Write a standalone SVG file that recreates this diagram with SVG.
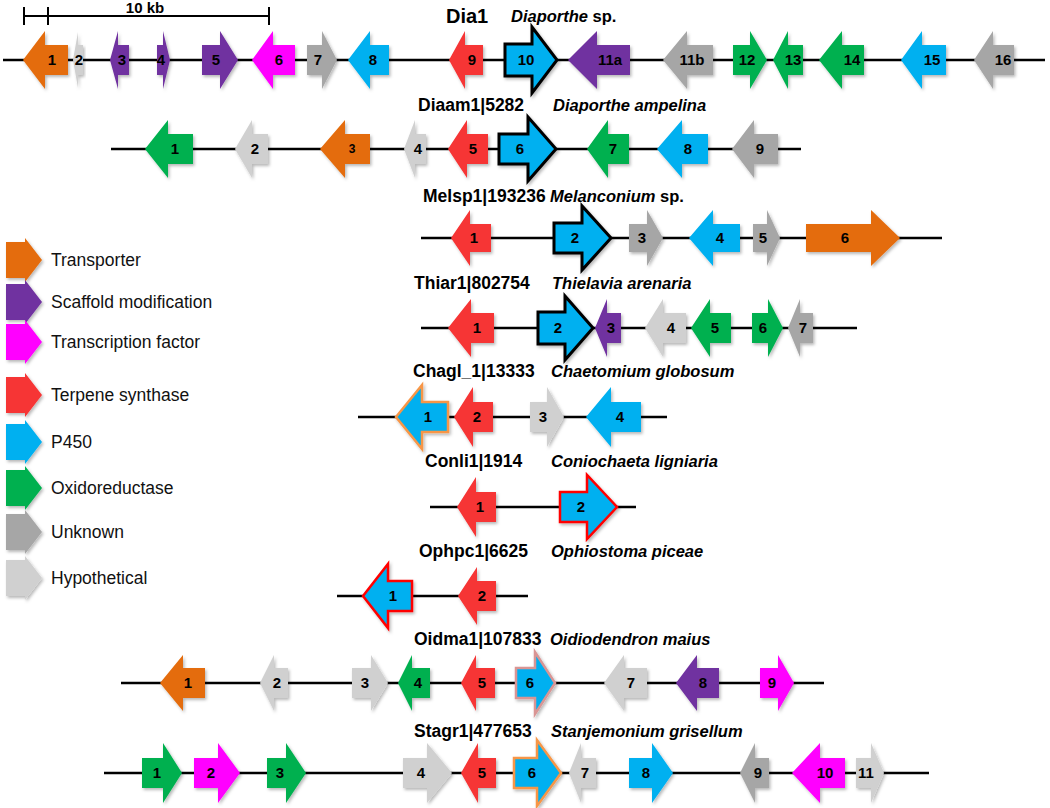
<svg xmlns="http://www.w3.org/2000/svg" width="1050" height="808" viewBox="0 0 1050 808">
<defs>
<filter id="sh" x="-20%" y="-20%" width="150%" height="150%"><feDropShadow dx="1.5" dy="2" stdDeviation="1.5" flood-color="#000" flood-opacity="0.28"/></filter>
</defs>
<style>
.ln{stroke:#000;stroke-width:2.5;fill:none}
.sb{stroke:#000;stroke-width:2;fill:none}
polygon{filter:url(#sh)}
text{font-family:"Liberation Sans",Arial,sans-serif;fill:#000}
.n{font-size:15px;font-weight:bold;text-anchor:middle}
.id{font-size:17.5px;font-weight:bold}
.sp{font-size:16.5px;font-weight:bold;font-style:italic}
.lt{font-size:17.5px;fill:#111}
.or{fill:#E46C0A}.pu{fill:#7030A0}.mg{fill:#FF00FF}.rd{fill:#F63434}.bl{fill:#00B0F0}.gn{fill:#00B050}.gy{fill:#A6A6A6}.lg{fill:#D0D0D0}
.bk{stroke:#000;stroke-width:3;stroke-linejoin:miter}
.ob{stroke:#F79646;stroke-width:2.5}
.rb{stroke:#FF0000;stroke-width:2.5}
.pb{stroke:#D99594;stroke-width:2.5}
</style>
<rect width="1050" height="808" fill="#fff"/>

<g id="scalebar">
<path class="sb" d="M24,16H269M24,7V25M48,7V25M269,7V25"/>
<text x="145" y="13" text-anchor="middle" style="font-size:15px;font-weight:bold">10 kb</text>
</g>

<g id="connectors">
<line class="ln" x1="3" y1="60" x2="1045" y2="60"/>
<line class="ln" x1="111" y1="149" x2="801" y2="149"/>
<line class="ln" x1="421" y1="238" x2="942" y2="238"/>
<line class="ln" x1="421" y1="328" x2="857" y2="328"/>
<line class="ln" x1="358" y1="417" x2="667" y2="417"/>
<line class="ln" x1="430" y1="507" x2="636" y2="507"/>
<line class="ln" x1="337" y1="596" x2="528" y2="596"/>
<line class="ln" x1="121" y1="683" x2="824" y2="683"/>
<line class="ln" x1="104" y1="773" x2="929" y2="773"/>
</g>

<g id="labels">
<text class="id" x="446" y="23" style="font-size:20px">Dia1</text>
<text class="sp" x="511" y="22">Diaporthe<tspan font-style="normal"> sp.</tspan></text>
<text class="id" x="418" y="111">Diaam1|5282</text>
<text class="sp" x="553" y="111">Diaporthe ampelina</text>
<text class="id" x="423" y="202">Melsp1|193236</text>
<text class="sp" x="550" y="202">Melanconium<tspan font-style="normal"> sp.</tspan></text>
<text class="id" x="414" y="289">Thiar1|802754</text>
<text class="sp" x="552" y="289">Thielavia arenaria</text>
<text class="id" x="413" y="377">Chagl_1|13333</text>
<text class="sp" x="551" y="377">Chaetomium globosum</text>
<text class="id" x="425" y="467">Conli1|1914</text>
<text class="sp" x="551" y="467">Coniochaeta ligniaria</text>
<text class="id" x="419" y="557">Ophpc1|6625</text>
<text class="sp" x="551" y="557">Ophiostoma piceae</text>
<text class="id" x="414" y="645">Oidma1|107833</text>
<text class="sp" x="550" y="645">Oidiodendron maius</text>
<text class="id" x="414" y="737">Stagr1|477653</text>
<text class="sp" x="551" y="737">Stanjemonium grisellum</text>
</g>

<g id="legend">
<g id="leg-transporter"><polygon class="or" points="6,242 25,242 25,238 42,260 25,282 25,278 6,278"/><text class="lt" x="51" y="266">Transporter</text></g>
<g id="leg-scaffold"><polygon class="pu" points="6,284 25,284 25,280 42,302 25,324 25,320 6,320"/><text class="lt" x="51" y="308">Scaffold modification</text></g>
<g id="leg-tf"><polygon class="mg" points="6,324 25,324 25,320 42,342 25,364 25,360 6,360"/><text class="lt" x="51" y="348">Transcription factor</text></g>
<g id="leg-terpene"><polygon class="rd" points="6,377 25,377 25,373 42,395 25,417 25,413 6,413"/><text class="lt" x="51" y="401">Terpene synthase</text></g>
<g id="leg-p450"><polygon class="bl" points="6,424 25,424 25,420 42,442 25,464 25,460 6,460"/><text class="lt" x="51" y="448">P450</text></g>
<g id="leg-oxido"><polygon class="gn" points="6,470 25,470 25,466 42,488 25,510 25,506 6,506"/><text class="lt" x="51" y="494">Oxidoreductase</text></g>
<g id="leg-unknown"><polygon class="gy" points="6,514 25,514 25,510 42,532 25,554 25,550 6,550"/><text class="lt" x="51" y="538">Unknown</text></g>
<g id="leg-hypo"><polygon class="lg" points="6,560 25,560 25,556 42,578 25,600 25,596 6,596"/><text class="lt" x="51" y="584">Hypothetical</text></g>
</g>

<g id="dia1">
<g id="dia1-1"><polygon class="or" points="23,60 45,31 45,45 68,45 68,75 45,75 45,89"/><text class="n" x="52" y="65">1</text></g>
<g id="dia1-2"><polygon class="lg" points="73,60 78,32 78,45 83,45 83,75 78,75 78,88"/><text class="n" x="79" y="65">2</text></g>
<g id="dia1-3"><polygon class="pu" points="110,60 118,31 118,45 129,45 129,75 118,75 118,89"/><text class="n" x="122" y="65">3</text></g>
<g id="dia1-4"><polygon class="pu" points="157,45 163,45 163,31 170,60 163,89 163,75 157,75"/><text class="n" x="161" y="65">4</text></g>
<g id="dia1-5"><polygon class="pu" points="202,45 220,45 220,31 238,60 220,89 220,75 202,75"/><text class="n" x="216" y="65">5</text></g>
<g id="dia1-6"><polygon class="mg" points="252,60 273,31 273,45 295,45 295,75 273,75 273,89"/><text class="n" x="279" y="65">6</text></g>
<g id="dia1-7"><polygon class="gy" points="307,45 322,45 322,31 337,60 322,89 322,75 307,75"/><text class="n" x="318" y="65">7</text></g>
<g id="dia1-8"><polygon class="bl" points="348,60 370,31 370,45 389,45 389,75 370,75 370,89"/><text class="n" x="373" y="65">8</text></g>
<g id="dia1-9"><polygon class="rd" points="449,60 465,31 465,45 483,45 483,75 465,75 465,89"/><text class="n" x="472" y="65">9</text></g>
<g id="dia1-10"><polygon class="bl bk" points="505,44 532,44 532,27 557,60 532,93 532,76 505,76"/><text class="n" x="526" y="65">10</text></g>
<g id="dia1-11a"><polygon class="pu" points="568,60 597,31 597,45 630,45 630,75 597,75 597,89"/><text class="n" x="610" y="65">11a</text></g>
<g id="dia1-11b"><polygon class="gy" points="663,60 687,31 687,45 713,45 713,75 687,75 687,89"/><text class="n" x="692" y="65">11b</text></g>
<g id="dia1-12"><polygon class="gn" points="733,45 750,45 750,31 767,60 750,89 750,75 733,75"/><text class="n" x="747" y="65">12</text></g>
<g id="dia1-13"><polygon class="gn" points="773,60 788,31 788,45 803,45 803,75 788,75 788,89"/><text class="n" x="793" y="65">13</text></g>
<g id="dia1-14"><polygon class="gn" points="819,60 842,31 842,45 864,45 864,75 842,75 842,89"/><text class="n" x="852" y="65">14</text></g>
<g id="dia1-15"><polygon class="bl" points="901,60 922,31 922,45 946,45 946,75 922,75 922,89"/><text class="n" x="932" y="65">15</text></g>
<g id="dia1-16"><polygon class="gy" points="974,60 993,31 993,45 1014,45 1014,75 993,75 993,89"/><text class="n" x="1003" y="65">16</text></g>
</g>

<g id="diaam1">
<g id="diaam1-1"><polygon class="gn" points="145,149 168,120 168,134 193,134 193,164 168,164 168,178"/><text class="n" x="175" y="154">1</text></g>
<g id="diaam1-2"><polygon class="lg" points="235,149 252,120 252,134 268,134 268,164 252,164 252,178"/><text class="n" x="255" y="154">2</text></g>
<g id="diaam1-3"><polygon class="or" points="320,149 345,120 345,134 370,134 370,164 345,164 345,178"/><text class="n" x="352" y="153" style="font-size:12px">3</text></g>
<g id="diaam1-4"><polygon class="lg" points="404,149 415,120 415,134 426,134 426,164 415,164 415,178"/><text class="n" x="418" y="154">4</text></g>
<g id="diaam1-5"><polygon class="rd" points="448,149 467,120 467,134 488,134 488,164 467,164 467,178"/><text class="n" x="473" y="154">5</text></g>
<g id="diaam1-6"><polygon class="bl bk" points="499,134 528,134 528,117 556,149 528,181 528,164 499,164"/><text class="n" x="520" y="154">6</text></g>
<g id="diaam1-7"><polygon class="gn" points="587,149 608,120 608,134 629,134 629,164 608,164 608,178"/><text class="n" x="613" y="154">7</text></g>
<g id="diaam1-8"><polygon class="bl" points="657,149 682,120 682,134 708,134 708,164 682,164 682,178"/><text class="n" x="688" y="154">8</text></g>
<g id="diaam1-9"><polygon class="gy" points="732,149 754,120 754,134 778,134 778,164 754,164 754,178"/><text class="n" x="760" y="154">9</text></g>
</g>

<g id="melsp1">
<g id="melsp1-1"><polygon class="rd" points="451,238 470,210 470,224 491,224 491,252 470,252 470,266"/><text class="n" x="474" y="243">1</text></g>
<g id="melsp1-2"><polygon class="bl bk" points="554,223 582,223 582,206 611,238 582,270 582,253 554,253"/><text class="n" x="575" y="243">2</text></g>
<g id="melsp1-3"><polygon class="gy" points="629,224 647,224 647,210 663,238 647,266 647,252 629,252"/><text class="n" x="642" y="243">3</text></g>
<g id="melsp1-4"><polygon class="bl" points="689,238 713,210 713,224 740,224 740,252 713,252 713,266"/><text class="n" x="720" y="243">4</text></g>
<g id="melsp1-5"><polygon class="gy" points="753,224 767,224 767,210 780,238 767,266 767,252 753,252"/><text class="n" x="763" y="243">5</text></g>
<g id="melsp1-6"><polygon class="or" points="806,224 871,224 871,210 900,238 871,266 871,252 806,252"/><text class="n" x="845" y="243">6</text></g>
</g>

<g id="thiar1">
<g id="thiar1-1"><polygon class="rd" points="448,328 471,299 471,313 494,313 494,343 471,343 471,357"/><text class="n" x="477" y="333">1</text></g>
<g id="thiar1-2"><polygon class="bl bk" points="538,312 565,312 565,296 593,328 565,360 565,344 538,344"/><text class="n" x="558" y="333">2</text></g>
<g id="thiar1-3"><polygon class="pu" points="595,328 607,299 607,313 621,313 621,343 607,343 607,357"/><text class="n" x="611" y="333">3</text></g>
<g id="thiar1-4"><polygon class="lg" points="645,328 663,299 663,313 686,313 686,343 663,343 663,357"/><text class="n" x="671" y="333">4</text></g>
<g id="thiar1-5"><polygon class="gn" points="691,328 710,299 710,313 731,313 731,343 710,343 710,357"/><text class="n" x="715" y="333">5</text></g>
<g id="thiar1-6"><polygon class="gn" points="752,313 768,313 768,299 783,328 768,357 768,343 752,343"/><text class="n" x="763" y="333">6</text></g>
<g id="thiar1-7"><polygon class="gy" points="788,328 800,299 800,313 813,313 813,343 800,343 800,357"/><text class="n" x="803" y="333">7</text></g>
</g>

<g id="chagl1">
<g id="chagl1-1"><polygon class="bl ob" points="396,417 422,385 422,402 448,402 448,432 422,432 422,449"/><text class="n" x="428" y="422">1</text></g>
<g id="chagl1-2"><polygon class="rd" points="454,417 473,387 473,402 493,402 493,432 473,432 473,447"/><text class="n" x="477" y="422">2</text></g>
<g id="chagl1-3"><polygon class="lg" points="530,402 547,402 547,387 564,417 547,447 547,432 530,432"/><text class="n" x="543" y="422">3</text></g>
<g id="chagl1-4"><polygon class="bl" points="586,417 611,387 611,402 641,402 641,432 611,432 611,447"/><text class="n" x="620" y="422">4</text></g>
</g>

<g id="conli1">
<g id="conli1-1"><polygon class="rd" points="457,507 476,477 476,492 496,492 496,522 476,522 476,537"/><text class="n" x="480" y="512">1</text></g>
<g id="conli1-2"><polygon class="bl rb" points="560,492 587,492 587,475 617,507 587,539 587,522 560,522"/><text class="n" x="581" y="512">2</text></g>
</g>

<g id="ophpc1">
<g id="ophpc1-1"><polygon class="bl rb" points="363,596 388,564 388,581 412,581 412,611 388,611 388,628"/><text class="n" x="393" y="601">1</text></g>
<g id="ophpc1-2"><polygon class="rd" points="458,596 477,567 477,581 496,581 496,611 477,611 477,625"/><text class="n" x="482" y="601">2</text></g>
</g>

<g id="oidma1">
<g id="oidma1-1"><polygon class="or" points="160,683 183,655 183,668 205,668 205,698 183,698 183,711"/><text class="n" x="188" y="688">1</text></g>
<g id="oidma1-2"><polygon class="lg" points="260,683 274,655 274,668 288,668 288,698 274,698 274,711"/><text class="n" x="277" y="688">2</text></g>
<g id="oidma1-3"><polygon class="lg" points="352,668 371,668 371,655 388,683 371,711 371,698 352,698"/><text class="n" x="365" y="688">3</text></g>
<g id="oidma1-4"><polygon class="gn" points="398,683 412,655 412,668 430,668 430,698 412,698 412,711"/><text class="n" x="418" y="688">4</text></g>
<g id="oidma1-5"><polygon class="rd" points="461,683 476,655 476,668 495,668 495,698 476,698 476,711"/><text class="n" x="482" y="688">5</text></g>
<g id="oidma1-6"><polygon class="bl pb" points="516,668 535,668 535,652 555,683 535,714 535,698 516,698"/><text class="n" x="530" y="688">6</text></g>
<g id="oidma1-7"><polygon class="lg" points="604,683 624,655 624,668 647,668 647,698 624,698 624,711"/><text class="n" x="631" y="688">7</text></g>
<g id="oidma1-8"><polygon class="pu" points="676,683 697,655 697,668 719,668 719,698 697,698 697,711"/><text class="n" x="703" y="688">8</text></g>
<g id="oidma1-9"><polygon class="mg" points="760,668 778,668 778,655 794,683 778,711 778,698 760,698"/><text class="n" x="772" y="688">9</text></g>
</g>

<g id="stagr1">
<g id="stagr1-1"><polygon class="gn" points="142,758 163,758 163,743 182,773 163,803 163,788 142,788"/><text class="n" x="157" y="778">1</text></g>
<g id="stagr1-2"><polygon class="mg" points="194,758 218,758 218,743 240,773 218,803 218,788 194,788"/><text class="n" x="211" y="778">2</text></g>
<g id="stagr1-3"><polygon class="gn" points="267,758 286,758 286,743 306,773 286,803 286,788 267,788"/><text class="n" x="280" y="778">3</text></g>
<g id="stagr1-4"><polygon class="lg" points="403,758 427,758 427,743 452,773 427,803 427,788 403,788"/><text class="n" x="421" y="778">4</text></g>
<g id="stagr1-5"><polygon class="rd" points="461,773 478,743 478,758 496,758 496,788 478,788 478,803"/><text class="n" x="482" y="778">5</text></g>
<g id="stagr1-6"><polygon class="bl ob" points="514,758 537,758 537,740 561,773 537,806 537,788 514,788"/><text class="n" x="532" y="778">6</text></g>
<g id="stagr1-7"><polygon class="lg" points="569,773 581,743 581,758 596,758 596,788 581,788 581,803"/><text class="n" x="585" y="778">7</text></g>
<g id="stagr1-8"><polygon class="bl" points="629,758 652,758 652,743 673,773 652,803 652,788 629,788"/><text class="n" x="646" y="778">8</text></g>
<g id="stagr1-9"><polygon class="gy" points="740,773 755,743 755,758 769,758 769,788 755,788 755,803"/><text class="n" x="758" y="778">9</text></g>
<g id="stagr1-10"><polygon class="mg" points="792,773 820,743 820,758 845,758 845,788 820,788 820,803"/><text class="n" x="825" y="778">10</text></g>
<g id="stagr1-11"><polygon class="lg" points="856,758 871,758 871,743 884,773 871,803 871,788 856,788"/><text class="n" x="866" y="778">11</text></g>
</g>
</svg>
